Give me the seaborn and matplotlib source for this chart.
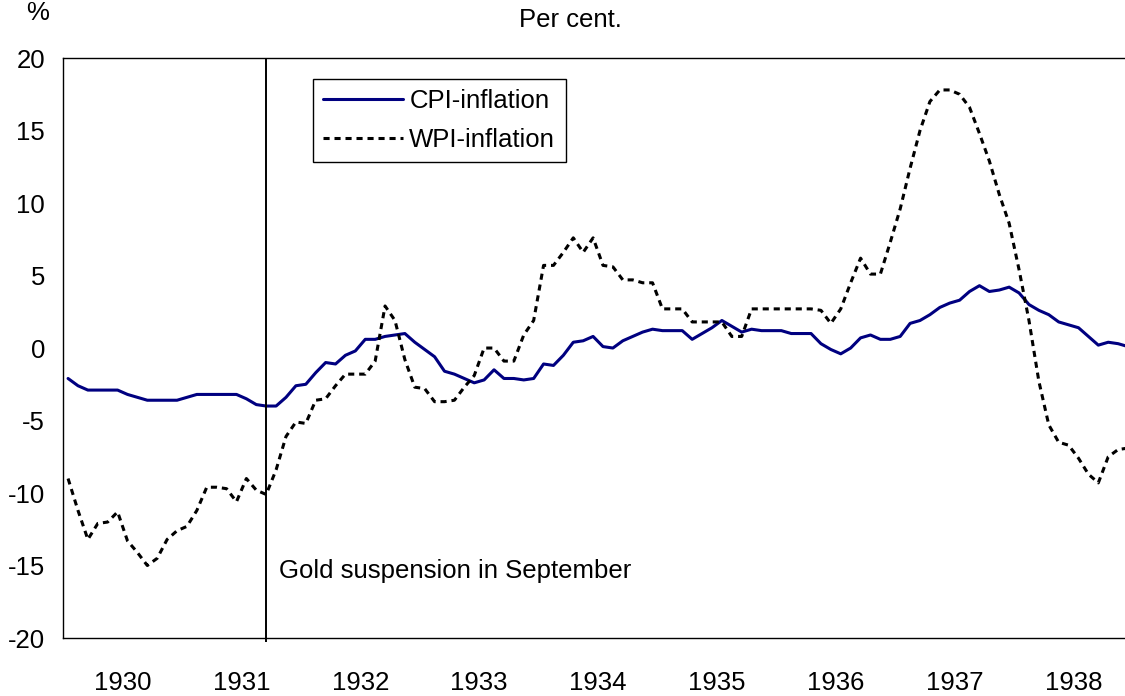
# CPI and WPI inflation around the 1931 gold suspension
import matplotlib
matplotlib.use("Agg")

import matplotlib.pyplot as plt
from matplotlib.ticker import FixedLocator, NullFormatter
import seaborn as sns
import numpy as np
import pandas as pd


# monthly data, Jan 1930 - Dec 1938, per cent
years = [1930, 1931, 1932, 1933, 1934, 1935, 1936, 1937, 1938]

cpi = [
    -2.1, -2.6, -2.9, -2.9, -2.9, -2.9, -3.2, -3.4, -3.6, -3.6, -3.6, -3.6,
    -3.4, -3.2, -3.2, -3.2, -3.2, -3.2, -3.5, -3.9, -4.0, -4.0, -3.4, -2.6,
    -2.5, -1.7, -1.0, -1.1, -0.5, -0.2, 0.6, 0.6, 0.8, 0.9, 1.0, 0.4,
    -0.1, -0.6, -1.6, -1.8, -2.1, -2.4, -2.2, -1.5, -2.1, -2.1, -2.2, -2.1,
    -1.1, -1.2, -0.5, 0.4, 0.5, 0.8, 0.1, 0.0, 0.5, 0.8, 1.1, 1.3,
    1.2, 1.2, 1.2, 0.6, 1.0, 1.4, 1.9, 1.5, 1.1, 1.3, 1.2, 1.2,
    1.2, 1.0, 1.0, 1.0, 0.3, -0.1, -0.4, 0.0, 0.7, 0.9, 0.6, 0.6,
    0.8, 1.7, 1.9, 2.3, 2.8, 3.1, 3.3, 3.9, 4.3, 3.9, 4.0, 4.2,
    3.8, 3.0, 2.6, 2.3, 1.8, 1.6, 1.4, 0.8, 0.2, 0.4, 0.3, 0.1,
]

wpi = [
    -9.0, -11.2, -13.2, -12.1, -12.0, -11.3, -13.3, -14.1, -15.0, -14.5, -13.2, -12.6,
    -12.3, -11.2, -9.6, -9.6, -9.7, -10.6, -9.0, -9.8, -10.1, -8.4, -6.1, -5.1,
    -5.2, -3.6, -3.5, -2.6, -1.8, -1.8, -1.8, -0.9, 2.9, 1.9, -0.8, -2.7,
    -2.8, -3.7, -3.7, -3.6, -2.7, -1.9, 0.0, 0.0, -0.9, -0.9, 0.9, 1.9,
    5.7, 5.7, 6.6, 7.6, 6.6, 7.6, 5.7, 5.6, 4.7, 4.7, 4.5, 4.5,
    2.7, 2.7, 2.7, 1.8, 1.8, 1.8, 1.8, 0.8, 0.8, 2.7, 2.7, 2.7,
    2.7, 2.7, 2.7, 2.7, 2.6, 1.7, 2.7, 4.5, 6.2, 5.1, 5.1, 7.3,
    9.6, 12.4, 15.0, 17.0, 17.8, 17.8, 17.5, 16.6, 14.8, 12.9, 10.6, 8.6,
    5.4, 1.9, -2.3, -5.3, -6.5, -6.7, -7.6, -8.7, -9.3, -7.5, -7.0, -6.9,
]

gold_month = "1931-09"

months = pd.date_range("1930-01", periods=len(cpi), freq="MS")
df = pd.DataFrame({"month": months, "pos": np.arange(len(cpi)), "cpi": cpi, "wpi": wpi})
gold_pos = df.loc[df["month"] == pd.Timestamp(gold_month), "pos"].iloc[0]

FS = 18.5

sns.set_style("white")
plt.rcParams["font.family"] = ["Liberation Sans", "DejaVu Sans"]
plt.rcParams["axes.unicode_minus"] = False
plt.rcParams["text.color"] = "black"
plt.rcParams["xtick.color"] = "black"
plt.rcParams["ytick.color"] = "black"

fig = plt.figure(figsize=(11.25, 6.96), dpi=100)
# the plot area runs a little past the right edge, as in the source
ax = fig.add_axes([0.0561, 0.0833, 0.951, 0.8333])

sns.lineplot(data=df, x="pos", y="cpi", ax=ax, color="#000080", linewidth=2.2,
             label="CPI-inflation")
sns.lineplot(data=df, x="pos", y="wpi", ax=ax, color="black", linewidth=2.2,
             linestyle=(0, (2.0, 1.6)), label="WPI-inflation")

ax.vlines(gold_pos, -20.3, 20, color="black", linewidth=1.4, clip_on=False)
ax.text(gold_pos + 1.3, -15.4, "Gold suspension in September", fontsize=FS, va="center")

ax.set_xlim(-0.5, len(cpi) - 0.5)
ax.set_ylim(-20, 20)
ax.set_yticks(np.arange(-20, 21, 5))
ax.set_xlabel("")
ax.set_ylabel("")

# year boundaries get the tick marks, year names sit between them
bounds = [12 * k - 0.5 for k in range(1, len(years))]
centers = [12 * k + 5.5 for k in range(len(years))]
ax.xaxis.set_major_locator(FixedLocator(bounds))
ax.xaxis.set_major_formatter(NullFormatter())
ax.set_xticks(centers, minor=True)
ax.set_xticklabels([str(y) for y in years], minor=True)

ax.tick_params(axis="both", which="major", direction="in", length=5, width=1,
               color="black", labelsize=FS, labelcolor="black")
ax.tick_params(axis="y", pad=13)
ax.tick_params(axis="x", which="minor", length=0, pad=24, labelsize=FS,
               labelcolor="black")

for side in ["left", "bottom", "top"]:
    ax.spines[side].set_color("black")
    ax.spines[side].set_linewidth(1.0)
ax.spines["right"].set_visible(False)

leg = ax.legend(loc="upper left", bbox_to_anchor=(0.2336, 0.964), fontsize=FS,
                frameon=True, fancybox=False, framealpha=1, edgecolor="black",
                handlelength=3.1, handletextpad=0.25, borderpad=0.4,
                labelspacing=0.58, borderaxespad=0)
leg.get_frame().set_linewidth(1.0)

fig.text(38 / 1125, 1 - 13 / 696, "%", fontsize=FS, ha="center", va="center")
fig.text(570 / 1125, 1 - 20 / 696, "Per cent.", fontsize=FS, ha="center", va="center")

fig.savefig("out.png", dpi=100)
plt.close(fig)
